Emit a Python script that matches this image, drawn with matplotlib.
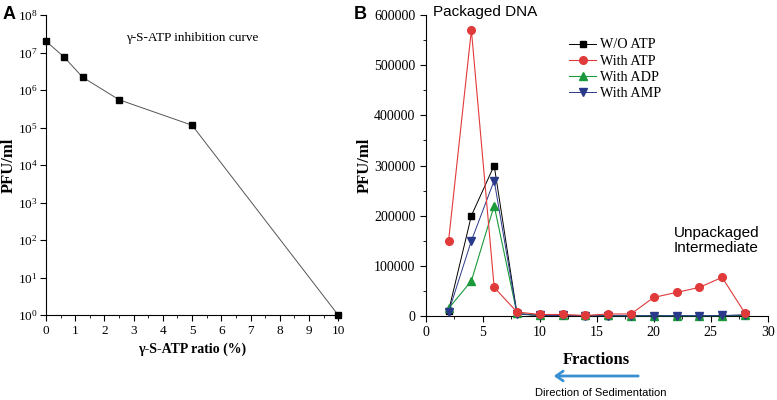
import numpy as np
import matplotlib
matplotlib.use('Agg')
import matplotlib.pyplot as plt
from matplotlib.ticker import MultipleLocator, LogLocator, NullLocator

plt.rcParams['font.family'] = ['Liberation Serif', 'DejaVu Serif']
plt.rcParams['mathtext.fontset'] = 'custom'
plt.rcParams['mathtext.rm'] = 'Liberation Serif'
plt.rcParams['mathtext.it'] = 'Liberation Serif:italic'
plt.rcParams['mathtext.bf'] = 'Liberation Serif:bold'

# panel A: inhibition curve
ratio = [0, 0.625, 1.25, 2.5, 5, 10]
pfu_a = [2.0e7, 7.5e6, 2.2e6, 5.5e5, 1.15e5, 1.0]

# panel B: sedimentation fractions
fractions = [2, 4, 6, 8, 10, 12, 14, 16, 18, 20, 22, 24, 26, 28]
wo_atp = [10000, 200000, 300000, 5000, 1000, 1000, 500, 500, 500, 500, 500, 500, 500, 2000]
with_atp = [150000, 570000, 57000, 8000, 3000, 3000, 1000, 4000, 4000, 37000, 47000, 57000, 77000, 6000]
with_adp = [15000, 70000, 220000, 5000, 1000, 1000, 1000, 1000, 500, 500, 500, 500, 500, 1000]
with_amp = [8000, 150000, 270000, 4000, 1000, 1000, 500, 500, 500, 500, 500, 500, 1000, 2000]

fig = plt.figure(figsize=(7.77, 4.0), dpi=100)

# ---- A ----
ax1 = fig.add_axes([0.0592, 0.2125, 0.376, 0.75])
ax1.plot(ratio, pfu_a, color='#555555', lw=0.7, marker='s', ms=4.5,
         mfc='black', mec='black', clip_on=False, zorder=3)
ax1.set_yscale('log')
ax1.set_xlim(0, 10)
ax1.set_ylim(1, 1e8)
ax1.yaxis.set_major_locator(LogLocator(base=10, numticks=20))
ax1.yaxis.set_minor_locator(NullLocator())
ax1.xaxis.set_major_locator(MultipleLocator(1))
ax1.xaxis.set_minor_locator(MultipleLocator(0.5))
for s in ['top', 'right']:
    ax1.spines[s].set_visible(False)
ax1.tick_params(direction='out', labelsize=9.5, length=4, width=0.8)
ax1.tick_params(axis='y', pad=2, labelsize=9.5)
ax1.tick_params(which='minor', direction='out', length=2.5, width=0.6)
ax1.set_xlabel('γ-S-ATP ratio (%)', fontsize=10, fontweight='bold', labelpad=4)
ax1.set_ylabel('PFU/ml', fontsize=12, fontweight='bold', labelpad=1)
ax1.text(0.5, 0.925, 'γ-S-ATP inhibition curve', transform=ax1.transAxes,
         ha='center', va='center', fontsize=9.5)
fig.text(0.003, 0.985, 'A', fontsize=13, fontweight='bold', va='top',
         family='Liberation Sans')

# ---- B ----
ax2 = fig.add_axes([0.548, 0.21, 0.44, 0.7525])
ax2.plot(fractions, wo_atp, color='black', lw=0.7, marker='s', ms=4.5,
         label='W/O ATP', clip_on=False, zorder=3)
ax2.plot(fractions, with_atp, color='#e03a3a', lw=0.8, marker='o', ms=5.5,
         mfc='#e03a3a', mec='#e03a3a', label='With ATP', clip_on=False, zorder=4)
ax2.plot(fractions, with_adp, color='#1a9a3a', lw=0.8, marker='^', ms=5.5,
         label='With ADP', clip_on=False, zorder=3)
ax2.plot(fractions, with_amp, color='#2a3a8a', lw=0.7, marker='v', ms=5.5,
         label='With AMP', clip_on=False, zorder=3)
ax2.set_xlim(0, 30)
ax2.set_ylim(0, 600000)
ax2.xaxis.set_major_locator(MultipleLocator(5))
ax2.xaxis.set_minor_locator(MultipleLocator(2.5))
ax2.yaxis.set_major_locator(MultipleLocator(100000))
ax2.yaxis.set_minor_locator(MultipleLocator(50000))
for s in ['top', 'right']:
    ax2.spines[s].set_visible(False)
ax2.tick_params(direction='out', labelsize=10, length=4, width=0.8)
ax2.tick_params(which='minor', direction='out', length=2.5, width=0.6)
ax2.set_xlabel('Fractions', fontsize=12, fontweight='bold', labelpad=9)
ax2.set_ylabel('PFU/ml', fontsize=12, fontweight='bold', labelpad=1)
ax2.legend(loc='upper left', bbox_to_anchor=(0.39, 0.955), frameon=False,
           fontsize=10.2, handlelength=1.9, handletextpad=0.3, labelspacing=0.22,
           borderpad=0.2)
ax2.text(0.02, 1.01, 'Packaged DNA', transform=ax2.transAxes, ha='left',
         va='center', fontsize=11, family='Liberation Sans')
ax2.text(0.725, 0.25, 'Unpackaged\nIntermediate', transform=ax2.transAxes,
         ha='left', va='center', fontsize=11, family='Liberation Sans',
         linespacing=1.1)
fig.text(0.472, 0.985, 'B', fontsize=13, fontweight='bold', va='top',
         family='Liberation Sans', ha='right')

# sedimentation arrow
fig.patches.append(matplotlib.patches.FancyArrowPatch(
    (641 / 777, 1 - 376 / 400), (551 / 777, 1 - 376 / 400),
    transform=fig.transFigure, arrowstyle='->,head_length=5,head_width=3.5',
    color='#3a8fd0', lw=2.0))
fig.text(601 / 777, 1 - 393 / 400, 'Direction of Sedimentation', ha='center',
         va='center', fontsize=8, family='Liberation Sans')

fig.savefig('out.png', dpi=100)
